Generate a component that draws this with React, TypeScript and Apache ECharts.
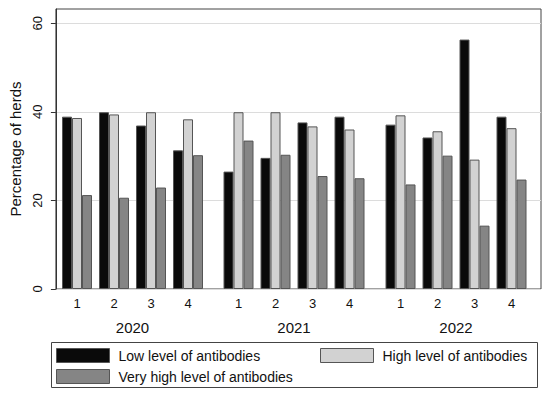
import React, { useEffect, useRef } from "react";
import * as echarts from "echarts";

const quarters = ["1", "2", "3", "4"];
const years = ["2020", "2021", "2022"];
const seriesNames = [
  "Low level of antibodies",
  "High level of antibodies",
  "Very high level of antibodies",
];
// values per quarter, 2020 Q1..Q4, 2021 Q1..Q4, 2022 Q1..Q4
const lowLevel = [38.9, 39.9, 36.9, 31.3, 26.5, 29.6, 37.6, 38.9, 37.1, 34.2, 56.3, 38.9];
const highLevel = [38.6, 39.4, 39.9, 38.3, 39.9, 39.9, 36.7, 36.0, 39.2, 35.6, 29.2, 36.3];
const veryHighLevel = [21.2, 20.6, 22.9, 30.2, 33.5, 30.3, 25.5, 25.0, 23.6, 30.1, 14.3, 24.7];
const yTicks = [0, 20, 40, 60];

const colors = ["#0a0a0a", "#d2d2d2", "#858585"];
const FONT = "Liberation Sans, Arial, sans-serif";

export default function App() {
  const ref = useRef<HTMLDivElement>(null);
  useEffect(() => {
    if (!ref.current) return;
    document.body.style.margin = "0";
    const chart = echarts.init(ref.current, null, { renderer: "svg" });
    const yMax = 63.2;
    const values = [lowLevel, highLevel, veryHighLevel];
    const gridLefts = [58.5, 220, 382];
    const grids: any[] = [
      {
        left: 45,
        right: 9,
        top: 9,
        bottom: 107,
        show: true,
        borderColor: "#444",
        borderWidth: 1,
        backgroundColor: "#fff",
      },
    ];
    const xAxes: any[] = [
      { type: "value", gridIndex: 0, show: false, min: 0, max: 1 },
    ];
    const yAxes: any[] = [
      {
        type: "value",
        gridIndex: 0,
        min: 0,
        max: yMax,
        interval: 20,
        name: "Percentage of herds",
        nameLocation: "middle",
        nameGap: 29,
        nameTextStyle: { fontFamily: FONT, fontSize: 15, color: "#111" },
        axisLine: { show: true, lineStyle: { color: "#333", width: 1 } },
        axisTick: {
          show: true,
          length: 5,
          customValues: yTicks,
          lineStyle: { color: "#333" },
        },
        axisLabel: {
          customValues: yTicks,
          rotate: 90,
          fontFamily: FONT,
          fontSize: 13,
          color: "#111",
          margin: 12,
        },
        splitLine: { show: true, lineStyle: { color: "#dcdcdc", width: 1 } },
      },
    ];
    const series: any[] = [];
    years.forEach((yr, i) => {
      grids.push({ left: gridLefts[i], width: 148, top: 9, bottom: 107 });
      xAxes.push({
        type: "category",
        gridIndex: i + 1,
        data: quarters,
        name: yr,
        nameLocation: "middle",
        nameGap: 31,
        nameTextStyle: { fontFamily: FONT, fontSize: 15, color: "#111" },
        axisLine: { show: false },
        axisTick: { show: false },
        axisLabel: { fontFamily: FONT, fontSize: 13, color: "#111", margin: 8 },
      });
      yAxes.push({
        type: "value",
        gridIndex: i + 1,
        min: 0,
        max: yMax,
        show: false,
        splitLine: { show: false },
      });
      seriesNames.forEach((name, s) => {
        series.push({
          type: "bar",
          name,
          xAxisIndex: i + 1,
          yAxisIndex: i + 1,
          data: values[s].slice(i * 4, i * 4 + 4),
          barWidth: 10,
          barGap: "0%",
          itemStyle: { color: colors[s], borderColor: "#555", borderWidth: 1 },
        });
      });
    });
    const legendCommon = {
      orient: "vertical",
      icon: "rect",
      itemWidth: 53,
      itemHeight: 14,
      itemGap: 6,
      padding: 0,
      selectedMode: false,
      textStyle: {
        fontFamily: FONT,
        fontSize: 14,
        color: "#111",
        padding: [0, 0, 0, 4],
      },
      itemStyle: { borderColor: "#555", borderWidth: 1 },
    };
    chart.setOption({
      animation: false,
      color: colors,
      grid: grids,
      xAxis: xAxes,
      yAxis: yAxes,
      series,
      legend: [
        { ...legendCommon, left: 56, top: 348, data: [seriesNames[0], seriesNames[2]] },
        { ...legendCommon, left: 320, top: 348, data: [seriesNames[1]] },
      ],
      graphic: [
        {
          type: "rect",
          shape: { x: 51.5, y: 342.5, width: 486, height: 45 },
          style: { fill: "none", stroke: "#444", lineWidth: 1 },
          z: -1,
        },
      ],
    });
    return () => chart.dispose();
  }, []);
  return <div ref={ref} style={{ width: 550, height: 396 }} />;
}
